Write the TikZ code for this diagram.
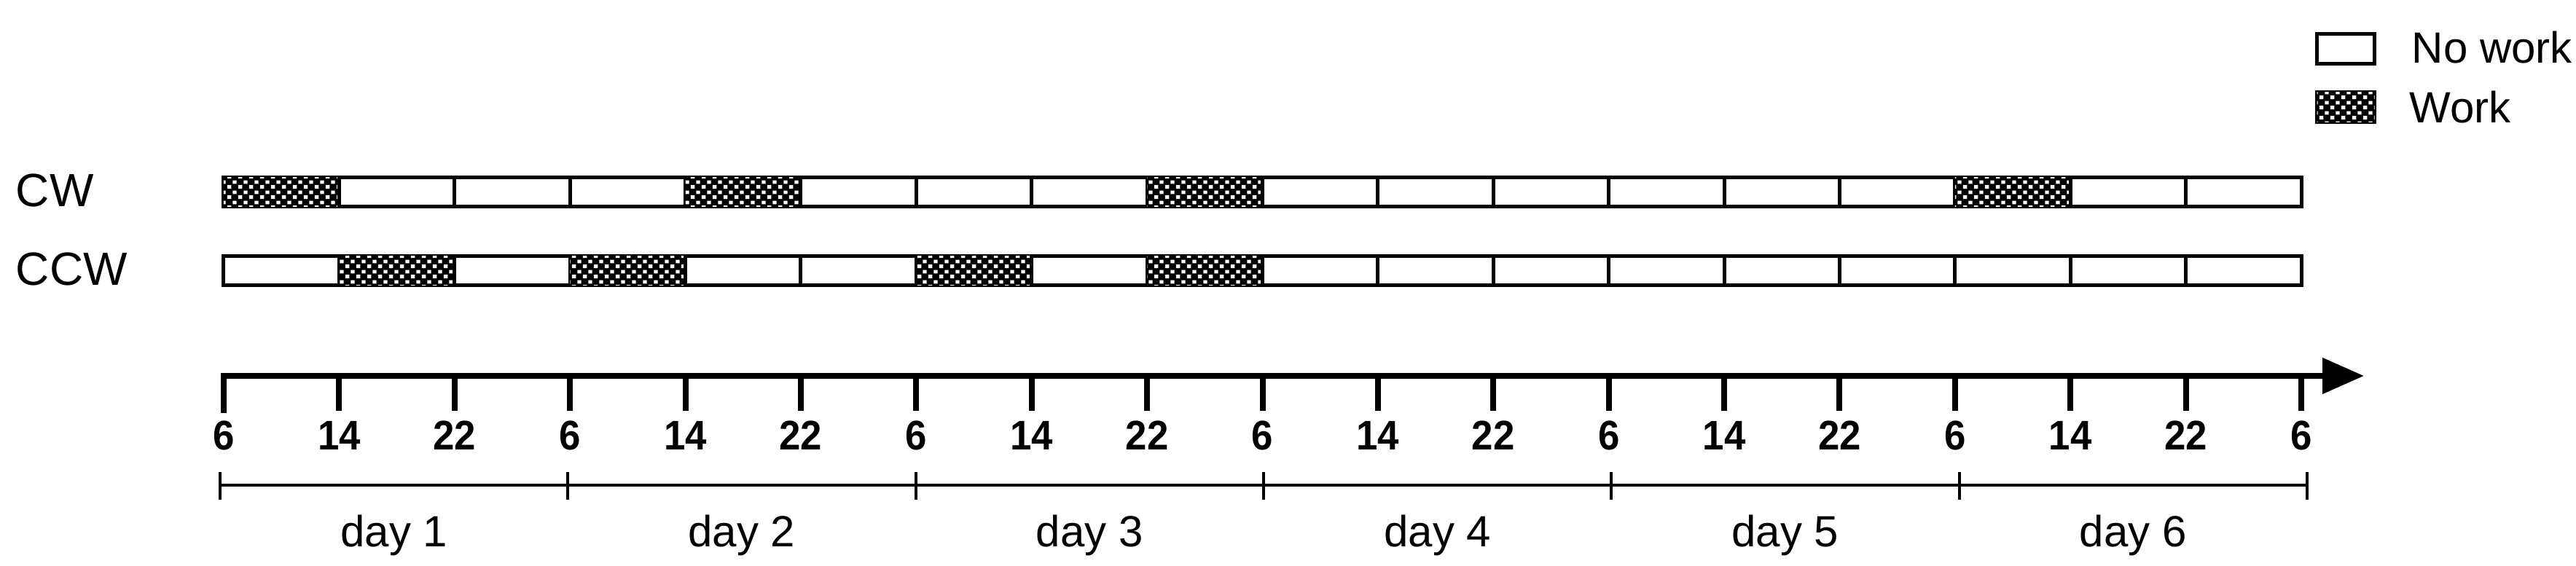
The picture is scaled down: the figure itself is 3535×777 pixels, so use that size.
\documentclass[tikz,border=0pt]{standalone}
\usepackage{fontspec}
\setmainfont{Liberation Sans}
\newfontfamily\tickfont[FakeStretch=0.93]{Liberation Sans Bold}
\usetikzlibrary{arrows.meta,patterns}
\pgfdeclarepatternformonly{chk}{\pgfpointorigin}{\pgfqpoint{3.7pt}{3.4pt}}{\pgfqpoint{3.7pt}{3.4pt}}{%
  \pgfpathrectangle{\pgfqpoint{0.25pt}{0.225pt}}{\pgfqpoint{1.35pt}{1.25pt}}%
  \pgfpathrectangle{\pgfqpoint{2.1pt}{1.925pt}}{\pgfqpoint{1.35pt}{1.25pt}}%
  \pgfusepath{fill}}
\tikzset{
  cell/.style={draw=black, line width=1.25pt, rectangle, minimum width=39.6pt, minimum height=10pt, inner sep=0pt, outer sep=0pt, fill=white},
  wk/.style={cell, fill=black, postaction={pattern=chk, pattern color=white}},
  nw/.style={cell},
  rowlabel/.style={font=\fontsize{16pt}{18pt}\selectfont, anchor=base west, inner sep=0pt},
  ticklabel/.style={font=\fontsize{14.2pt}{16pt}\tickfont, anchor=base, inner sep=0pt},
  daylabel/.style={font=\fontsize{15pt}{17pt}\selectfont, anchor=base, inner sep=0pt},
  legtext/.style={font=\fontsize{15pt}{17pt}\selectfont, anchor=base west, inner sep=0pt},
  axisline/.style={line width=2pt, -{Triangle[length=14.25pt, width=12pt]}},
  tickline/.style={line width=2pt},
  brack/.style={line width=1pt},
}
\begin{document}
\begin{tikzpicture}[x=0.25pt, y=-0.25pt]
\useasboundingbox (0,0) rectangle (3535,777);
% row labels
\node[rowlabel] (cwlab) at (21,284) {CW};
\node[rowlabel] (ccwlab) at (21,392) {CCW};
% CW row
\foreach \i/\s in {0/wk,1/nw,2/nw,3/nw,4/wk,5/nw,6/nw,7/nw,8/wk,9/nw,10/nw,11/nw,12/nw,13/nw,14/nw,15/wk,16/nw,17/nw}
  \node[\s] (cw\i) at ({307+(\i+0.5)*158.39},263.5) {};
% CCW row
\foreach \i/\s in {0/nw,1/wk,2/nw,3/wk,4/nw,5/nw,6/wk,7/nw,8/wk,9/nw,10/nw,11/nw,12/nw,13/nw,14/nw,15/nw,16/nw,17/nw}
  \node[\s] (ccw\i) at ({307+(\i+0.5)*158.39},372) {};
% time axis
\coordinate (a0) at (307,567);
\coordinate (axs) at (307,516);
\coordinate (axe) at (3244,516);
\draw[axisline] (a0) -- (axs) -- (axe);
\foreach \i/\l in {0/6,1/14,2/22,3/6,4/14,5/22,6/6,7/14,8/22,9/6,10/14,11/22,12/6,13/14,14/22,15/6,16/14,17/22,18/6}{
  \coordinate (t\i) at ({307+\i*158.39},516);
  \coordinate (tb\i) at ({307+\i*158.39},564);
  \draw[tickline] (t\i) -- (tb\i);
  \node[ticklabel] (tl\i) at ({307+\i*158.39},618) {\l};
}
% day brackets
\coordinate (bs) at (302,666);
\coordinate (be) at (3166,666);
\draw[brack] (bs) -- (be);
\foreach \i in {0,...,6}{
  \coordinate (bt\i) at ({302+\i*477.33},648);
  \coordinate (bb\i) at ({302+\i*477.33},686);
  \draw[brack] (bt\i) -- (bb\i);
}
\foreach \i in {1,...,6}
  \node[daylabel] (day\i) at ({302+(\i-0.5)*477.33},751) {day \i};
% legend
\node[nw, minimum width=19.75pt, minimum height=10.25pt] (legnw) at (3219,67) {};
\node[wk, minimum width=19.75pt, minimum height=10.25pt] (legwk) at (3219,147) {};
\node[legtext] (legnwt) at (3309,87) {No work};
\node[legtext] (legwkt) at (3306,169) {Work};
\end{tikzpicture}
\end{document}
